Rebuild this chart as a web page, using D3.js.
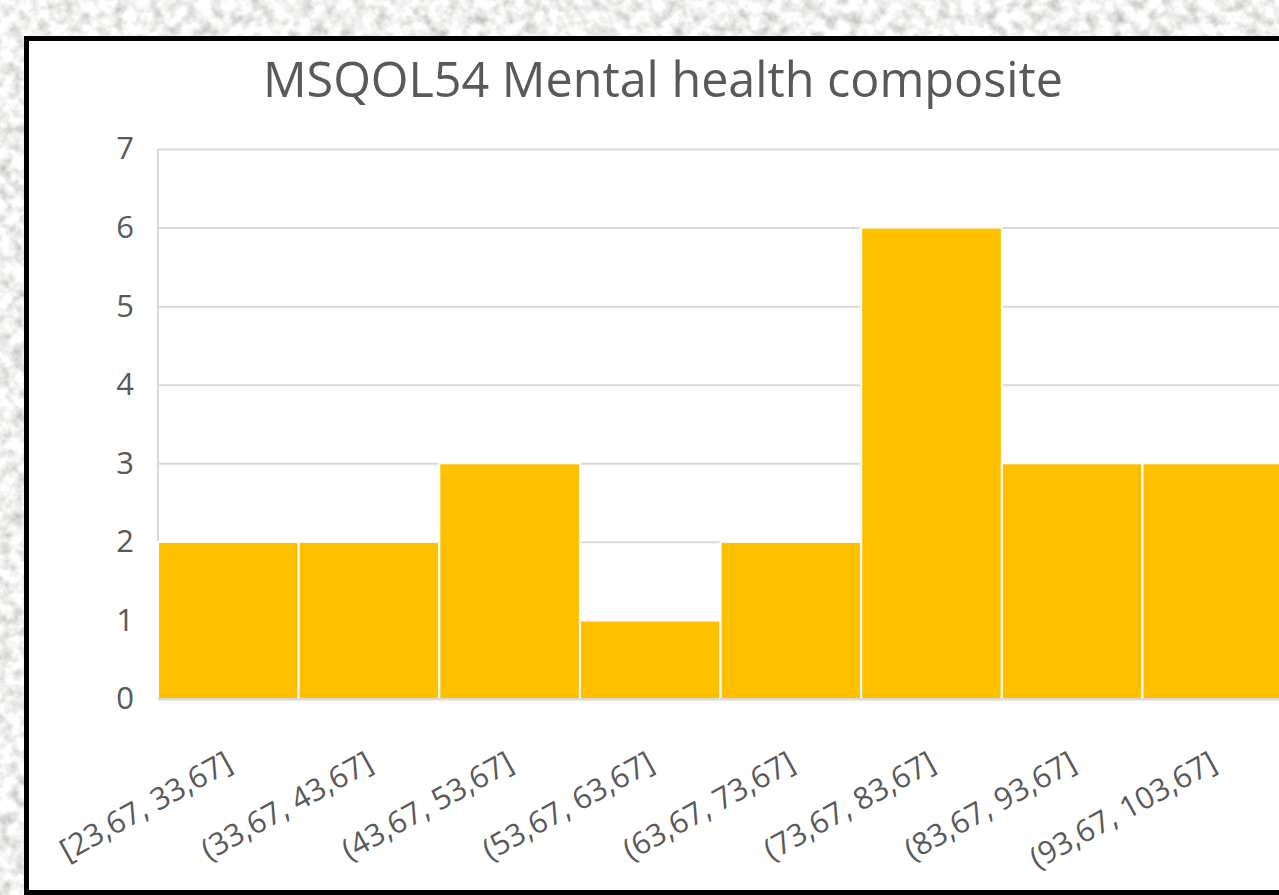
<!DOCTYPE html>
<html>
<head>
<meta charset="utf-8">
<script src="https://cdn.jsdelivr.net/npm/d3@7"></script>
<style>
  html, body { margin: 0; padding: 0; background: #e2e2e2; overflow: hidden; }
  svg { display: block; }
</style>
</head>
<body>
<script>
// ---- data ----
const categories = ["[23,67, 33,67]", "(33,67, 43,67]", "(43,67, 53,67]", "(53,67, 63,67]",
                    "(63,67, 73,67]", "(73,67, 83,67]", "(83,67, 93,67]", "(93,67, 103,67]"];
const counts = [2, 2, 3, 1, 2, 6, 3, 3];
const yTicks = [0, 1, 2, 3, 4, 5, 6, 7];
const title = "MSQOL54 Mental health composite";

// ---- layout ----
const W = 1279, H = 895;
const plot = { left: 158, top: 149, bottom: 699, step: 140.64 };

const svg = d3.select("body").append("svg").attr("width", W).attr("height", H);

// textured background
const defs = svg.append("defs");
const f = defs.append("filter").attr("id", "tex").attr("x", 0).attr("y", 0).attr("width", "100%").attr("height", "100%");
f.append("feTurbulence").attr("type", "fractalNoise").attr("baseFrequency", 0.08).attr("numOctaves", 3).attr("seed", 7).attr("result", "n");
f.append("feColorMatrix").attr("in", "n").attr("type", "matrix")
  .attr("values", "0.9 0 0 0 0.43  0.9 0 0 0 0.43  0.9 0 0 0 0.42  0 0 0 0 1");
svg.append("rect").attr("width", W).attr("height", H).attr("filter", "url(#tex)");

// chart panel
svg.append("rect")
  .attr("x", 26.5).attr("y", 38.5).attr("width", 1300).attr("height", 854)
  .attr("fill", "#ffffff").attr("stroke", "#000000").attr("stroke-width", 5);

// scales
const x = d3.scaleBand().domain(categories)
  .range([plot.left, plot.left + plot.step * categories.length]).padding(0);
const y = d3.scaleLinear().domain([0, 7]).range([plot.bottom, plot.top]);

// gridlines
const g = svg.append("g");
g.append("g")
  .attr("transform", `translate(${plot.left},0)`)
  .call(d3.axisLeft(y).tickValues(yTicks).tickSize(-(W - plot.left + 20)).tickFormat(""))
  .call(s => s.select(".domain").remove())
  .call(s => s.selectAll(".tick line").attr("stroke", "#d9d9d9").attr("stroke-width", 2));

// left vertical line of plot area
g.append("line")
  .attr("x1", plot.left).attr("x2", plot.left)
  .attr("y1", y(7)).attr("y2", y(0))
  .attr("stroke", "#d9d9d9").attr("stroke-width", 2);

// bars
g.selectAll("rect.bar").data(categories).join("rect")
  .attr("class", "bar")
  .attr("x", d => x(d))
  .attr("y", (d, i) => y(counts[i]))
  .attr("width", x.bandwidth())
  .attr("height", (d, i) => y(0) - y(counts[i]))
  .attr("fill", "#FFC000")
  .attr("stroke", "#ffffff")
  .attr("stroke-width", 2);

// bottom axis line
g.append("line")
  .attr("x1", plot.left).attr("x2", W + 10)
  .attr("y1", y(0)).attr("y2", y(0))
  .attr("stroke", "#d9d9d9").attr("stroke-width", 2);

// y tick labels
g.append("g")
  .attr("transform", `translate(${plot.left},0)`)
  .call(d3.axisLeft(y).tickValues(yTicks).tickSize(0).tickPadding(24).tickFormat(d3.format("d")))
  .call(s => s.select(".domain").remove())
  .call(s => s.selectAll("text")
    .attr("fill", "#595959")
    .attr("font-family", "'Open Sans', sans-serif")
    .attr("font-size", 31));

// x labels (rotated)
const xAxis = g.append("g")
  .attr("transform", `translate(0,${plot.bottom})`)
  .call(d3.axisBottom(x).tickSize(0).tickFormat(d => d))
  .call(s => s.select(".domain").remove());
xAxis.selectAll(".tick text")
  .attr("fill", "#595959")
  .attr("font-family", "'Open Sans', sans-serif")
  .attr("font-size", 30.5)
  .attr("text-anchor", "end")
  .attr("dy", 0)
  .attr("y", 0)
  .attr("transform", "translate(6,70) rotate(-29)");

// title
svg.append("text")
  .attr("x", 663).attr("y", 97)
  .attr("text-anchor", "middle")
  .attr("fill", "#595959")
  .attr("font-family", "'Open Sans', sans-serif")
  .attr("font-size", 50)
  .attr("textLength", 800)
  .attr("lengthAdjust", "spacingAndGlyphs")
  .text(title);
</script>
</body>
</html>
